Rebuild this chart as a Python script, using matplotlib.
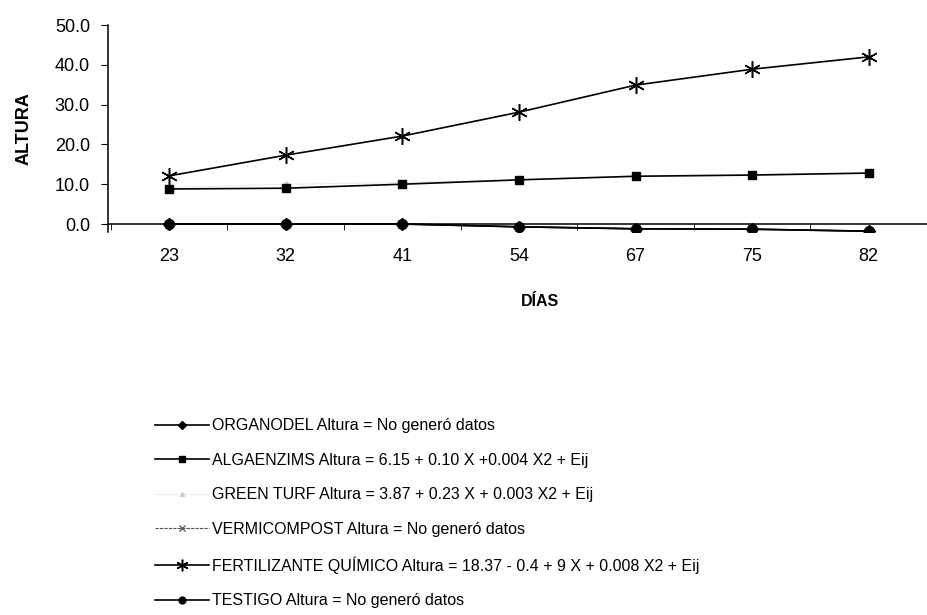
import matplotlib
matplotlib.use("Agg")
import matplotlib.pyplot as plt

plt.rcParams['font.family'] = ['Liberation Sans', 'DejaVu Sans']

# Days of measurement and plant height per treatment
dias = ['23', '32', '41', '54', '67', '75', '82']
organodel = [0.0, 0.0, 0.0, -0.7, -1.2, -1.3, -1.8]
algaenzims = [8.8, 9.0, 10.0, 11.1, 12.0, 12.3, 12.8]
green_turf = [9.2, 10.0, 10.4, 11.0, 12.1, 12.5, 12.9]
vermicompost = [0.0, 0.0, 0.0, -0.7, -1.2, -1.3, -1.8]
fertilizante = [12.1, 17.3, 22.1, 28.1, 34.9, 38.9, 42.0]
testigo = [0.0, 0.0, 0.0, -0.7, -1.2, -1.3, -1.8]

labels = [
    'ORGANODEL Altura = No generó datos',
    'ALGAENZIMS Altura = 6.15 + 0.10 X +0.004 X2 + Eij',
    'GREEN TURF Altura = 3.87 + 0.23 X + 0.003 X2 + Eij',
    'VERMICOMPOST Altura = No generó datos',
    'FERTILIZANTE QUÍMICO Altura = 18.37 - 0.4 + 9 X + 0.008 X2 + Eij',
    'TESTIGO Altura = No generó datos',
]

fig = plt.figure(figsize=(9.27, 6.15), dpi=100)
ax = fig.add_axes([0.1165, 0.6228, 0.8835, 0.3365])

# bottom spine sits on y=0 (set first, it resets the ticks)
for s in ['top', 'right']:
    ax.spines[s].set_visible(False)
ax.spines['bottom'].set_position(('data', 0))
ax.spines['bottom'].set_linewidth(1.1)
ax.spines['left'].set_linewidth(1.1)

x = list(range(len(dias)))
h = [None] * 6
h[2], = ax.plot(x, green_turf, color='#ececec', lw=0.8, marker='^', ms=4,
                mfc='#d8d8d8', mec='#c8c8c8', zorder=1)
h[3], = ax.plot(x, vermicompost, color='#555555', lw=0.8, ls=(0, (3, 1)),
                marker='x', ms=6, mew=0.9, zorder=2)
h[0], = ax.plot(x, organodel, color='black', lw=1.2, marker='D', ms=6, zorder=3)
h[1], = ax.plot(x, algaenzims, color='black', lw=1.2, marker='s', ms=6, zorder=3)
h[4], = ax.plot(x, fertilizante, color='black', lw=1.2, marker=(6, 2, 0),
                ms=12, mew=1.1, zorder=3)
h[5], = ax.plot(x, testigo, color='black', lw=1.2, marker='o', ms=7, zorder=4)

ax.set_xlim(-0.525, 6.40)
ax.set_ylim(-2, 50)
ax.set_yticks([0, 10, 20, 30, 40, 50])
ax.set_yticklabels([f'{v:.1f}' for v in range(0, 51, 10)])
ax.set_xticks(x)
ax.set_xticklabels(dias)
ax.set_xticks([i + 0.5 for i in range(-1, 7)], minor=True)
ax.tick_params(axis='x', which='major', length=0, pad=17, labelsize=13)
ax.tick_params(axis='x', which='minor', length=4, direction='out')
ax.tick_params(axis='y', length=5, direction='out', pad=8, labelsize=13)

ax.set_ylabel('ALTURA', fontsize=13, fontweight='bold', labelpad=16)
fig.text(0.583, 0.502, 'DÍAS', fontsize=11.5, fontweight='bold', ha='center')

fig.legend(h, labels, loc='upper left', bbox_to_anchor=(0.167, 0.32),
           frameon=False, fontsize=11.5, handlelength=3.4, handletextpad=0.2,
           labelspacing=1.22, borderpad=0, borderaxespad=0, markerscale=0.7)

fig.savefig('out.png', dpi=100)
